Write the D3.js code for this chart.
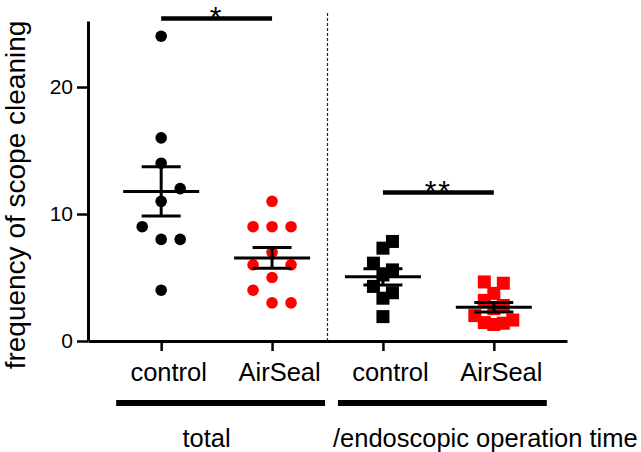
<!DOCTYPE html>
<html>
<head>
<meta charset="utf-8">
<script src="https://cdn.jsdelivr.net/npm/d3@7"></script>
<style>
  body { margin: 0; background: #fff; }
  svg text { font-family: "Liberation Sans", Arial, sans-serif; }
</style>
</head>
<body>
<div id="chart"></div>
<script>
// values
var groupKeys = ["total-control", "total-AirSeal", "time-control", "time-AirSeal"];
var categories = ["control", "AirSeal", "control", "AirSeal"];
var totalControl = [24, 16, 14, 12, 11, 9, 8, 8, 4];
var totalAirSeal = [11, 9, 9, 9, 7, 6, 6, 5, 4, 3, 3];
var timeControl = [7.84, 7.31, 6.13, 5.6, 5.2, 4.3, 3.8, 3.37, 1.92];
var timeAirSeal = [4.65, 4.55, 3.75, 3.2, 2.8, 2.55, 2.0, 1.65, 1.45, 1.4, 1.3];
var yTicks = [0, 10, 20];
var blockLabels = ["total", "/endoscopic operation time"];
var sigLabels = ["*", "**"];
var sigLevels = [25.4, 11.7];

var width = 641, height = 452;

var svg = d3.select("#chart")
    .append("svg")
        .attr("width", width)
        .attr("height", height);

var x = d3.scalePoint()
    .domain(groupKeys)
    .range([88, 567])
    .padding(0.66);

var y = d3.scaleLinear()
    .domain([0, 25.2])
    .range([341, 21]);

// y axis
var yAxis = svg.append("g")
    .attr("transform", "translate(88,0)")
    .call(d3.axisLeft(y).tickValues(yTicks).tickSize(11).tickSizeOuter(0).tickPadding(4));
yAxis.select(".domain").attr("stroke-width", 3);
yAxis.selectAll(".tick line").attr("stroke-width", 2.5);
yAxis.selectAll(".tick text").attr("font-size", 21).attr("font-family", null);

// x axis
var xAxis = svg.append("g")
    .attr("transform", "translate(0,341)")
    .call(d3.axisBottom(x).tickSize(10).tickSizeOuter(0).tickPadding(12)
        .tickFormat(function(d, i) { return categories[i]; }));
xAxis.select(".domain").attr("stroke-width", 3);
xAxis.selectAll(".tick line").attr("stroke-width", 2.5);
xAxis.selectAll(".tick text").attr("font-size", 25.5).attr("font-family", null).attr("dx", 7);

// dashed separator
var sepX = (x(groupKeys[1]) + x(groupKeys[2])) / 2;
svg.append("line")
    .attr("x1", sepX).attr("x2", sepX)
    .attr("y1", 13).attr("y2", 341)
    .attr("stroke", "#222")
    .attr("stroke-width", 1.2)
    .attr("stroke-dasharray", "3,2");

// y label
svg.append("text")
    .attr("transform", "translate(25,195) rotate(-90)")
    .attr("text-anchor", "middle")
    .attr("font-size", 28)
    .text("frequency of scope cleaning");

// simple swarm layout: each point goes to the first free column
function swarm(values, minDy) {
    var placed = [];
    values.slice().sort(d3.ascending).forEach(function(v) {
        var py = y(v);
        for (var k = 0; ; k++) {
            var off = k === 0 ? 0 : (k % 2 ? (k + 1) / 2 : -k / 2);
            var hit = placed.some(function(p) { return p.off === off && Math.abs(p.py - py) < minDy; });
            if (!hit) { placed.push({ v: v, py: py, off: off }); break; }
        }
    });
    return placed;
}

var groups = [
    { key: groupKeys[0], values: totalControl, color: "#000", shape: "circle" },
    { key: groupKeys[1], values: totalAirSeal, color: "#ff0000", shape: "circle" },
    { key: groupKeys[2], values: timeControl, color: "#000", shape: "square" },
    { key: groupKeys[3], values: timeAirSeal, color: "#ff0000", shape: "square" }
];

groups.forEach(function(g) {
    var cx = x(g.key);
    if (g.shape === "circle") {
        svg.append("g")
            .selectAll("circle")
            .data(swarm(g.values, 19))
            .enter()
            .append("circle")
                .attr("cx", function(d) { return cx + d.off * 19; })
                .attr("cy", function(d) { return d.py; })
                .attr("r", 5.8)
                .attr("fill", g.color);
    } else {
        svg.append("g")
            .selectAll("rect")
            .data(swarm(g.values, 13))
            .enter()
            .append("rect")
                .attr("x", function(d) { return cx + d.off * 9.5 - 6.5; })
                .attr("y", function(d) { return d.py - 6.5; })
                .attr("width", 13)
                .attr("height", 13)
                .attr("fill", g.color);
    }

    // mean and SEM
    var m = d3.mean(g.values);
    var sem = d3.deviation(g.values) / Math.sqrt(g.values.length);
    var eb = svg.append("g").attr("stroke", "#000").attr("stroke-width", 3);
    eb.append("line").attr("x1", cx - 38).attr("x2", cx + 38).attr("y1", y(m)).attr("y2", y(m));
    eb.append("line").attr("x1", cx).attr("x2", cx).attr("y1", y(m - sem)).attr("y2", y(m + sem));
    [m - sem, m + sem].forEach(function(v) {
        eb.append("line").attr("x1", cx - 19.5).attr("x2", cx + 19.5).attr("y1", y(v)).attr("y2", y(v));
    });
});

// significance bars
[0, 1].forEach(function(i) {
    var a = x(groupKeys[i * 2]), b = x(groupKeys[i * 2 + 1]);
    svg.append("line")
        .attr("x1", a).attr("x2", b)
        .attr("y1", y(sigLevels[i])).attr("y2", y(sigLevels[i]))
        .attr("stroke", "#000")
        .attr("stroke-width", 4.5);
    svg.append("text")
        .attr("x", (a + b) / 2)
        .attr("y", y(sigLevels[i]) + 9)
        .attr("text-anchor", "middle")
        .attr("font-size", 30)
        .attr("letter-spacing", 2)
        .text(sigLabels[i]);
});

// group bars under the axis
[0, 1].forEach(function(i) {
    var a = x(groupKeys[i * 2]), b = x(groupKeys[i * 2 + 1]);
    svg.append("line")
        .attr("x1", a - 45).attr("x2", b + 53)
        .attr("y1", 403).attr("y2", 403)
        .attr("stroke", "#000")
        .attr("stroke-width", 6);
});

svg.append("text")
    .attr("x", (x(groupKeys[0]) + x(groupKeys[1])) / 2 - 10)
    .attr("y", 447)
    .attr("text-anchor", "middle")
    .attr("font-size", 25.5)
    .text(blockLabels[0]);

svg.append("text")
    .attr("x", x(groupKeys[2]) - 50)
    .attr("y", 447)
    .attr("font-size", 25.5)
    .text(blockLabels[1]);
</script>
</body>
</html>
